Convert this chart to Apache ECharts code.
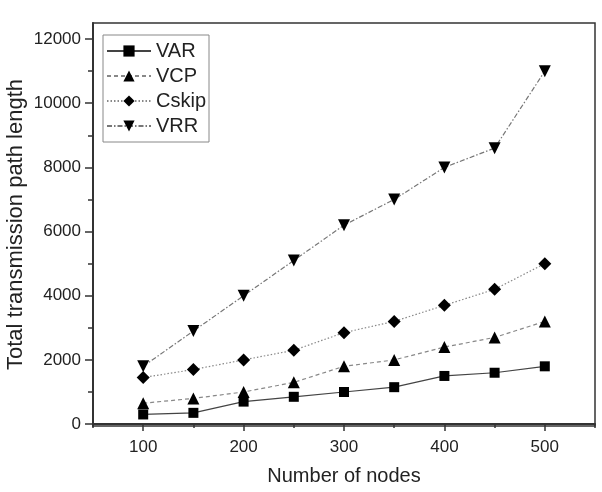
<!DOCTYPE html>
<html>
<head>
<meta charset="utf-8">
<script src="https://cdn.jsdelivr.net/npm/echarts@6/dist/echarts.min.js"></script>
<style>
  html, body { margin: 0; padding: 0; background: #fff; }
  #chart { width: 602px; height: 492px; }
</style>
</head>
<body>
<div id="chart"></div>
<script>
// data
const nodes = [100, 150, 200, 250, 300, 350, 400, 450, 500];
const varVals = [300, 350, 700, 850, 1000, 1150, 1500, 1600, 1800];
const vcpVals = [650, 800, 1000, 1300, 1800, 2000, 2400, 2700, 3200];
const cskipVals = [1450, 1700, 2000, 2300, 2850, 3200, 3700, 4200, 5000];
const vrrVals = [1800, 2900, 4000, 5100, 6200, 7000, 8000, 8600, 11000];

const xMajor = [100, 200, 300, 400, 500];
const xMinor = [50, 150, 250, 350, 450, 550];
const yMajor = [0, 2000, 4000, 6000, 8000, 10000, 12000];
const yMinor = [1000, 3000, 5000, 7000, 9000, 11000];

const pairs = (vals) => nodes.map((n, i) => [n, vals[i]]);

const font = 'Liberation Sans, Arial, sans-serif';
const axisColor = '#333';
const textColor = '#222';

const mkSeries = (name, vals, symbol, size, lineColor, lineType) => ({
  name: name,
  type: 'line',
  data: pairs(vals),
  symbol: symbol,
  symbolSize: size,
  itemStyle: { color: '#000' },
  lineStyle: { color: lineColor, width: 1.2, type: lineType },
  z: 3
});

const myChart = echarts.init(document.getElementById('chart'), null, { renderer: 'canvas' });
myChart.setOption({
  animation: false,
  backgroundColor: '#fff',
  grid: {
    left: 93, right: 7, top: 23, bottom: 66,
    outerBoundsMode: 'none',
    containLabel: false,
    show: true, borderColor: axisColor, borderWidth: 1.5
  },
  legend: {
    orient: 'vertical',
    left: 103, top: 35,
    padding: [6, 3, 6, 3],
    borderColor: '#888', borderWidth: 1,
    itemWidth: 44, itemHeight: 14, itemGap: 5,
    textStyle: { fontFamily: font, fontSize: 20, color: textColor },
    data: ['VAR', 'VCP', 'Cskip', 'VRR']
  },
  xAxis: [
    {
      type: 'value', min: 50, max: 550,
      name: 'Number of nodes', nameLocation: 'middle', nameGap: 40,
      nameMoveOverlap: false,
      nameTextStyle: { fontFamily: font, fontSize: 20, color: textColor },
      axisLine: { show: true, lineStyle: { color: axisColor, width: 2 } },
      axisTick: { show: true, inside: false, length: 7, customValues: xMajor, lineStyle: { color: axisColor, width: 1.5 } },
      axisLabel: { customValues: xMajor, margin: 13, fontFamily: font, fontSize: 17, color: textColor },
      splitLine: { show: false }
    },
    {
      type: 'value', min: 50, max: 550, position: 'bottom',
      axisLine: { show: false },
      axisTick: { show: true, length: 4, customValues: xMinor, lineStyle: { color: axisColor, width: 1.5 } },
      axisLabel: { show: false },
      splitLine: { show: false }
    }
  ],
  yAxis: [
    {
      type: 'value', min: -60, max: 12500,
      name: 'Total transmission path length', nameLocation: 'middle', nameGap: 66,
      nameMoveOverlap: false,
      nameTextStyle: { fontFamily: font, fontSize: 22, color: textColor },
      axisLine: { show: true, lineStyle: { color: axisColor, width: 2 } },
      axisTick: { show: true, inside: false, length: 8, customValues: yMajor, lineStyle: { color: axisColor, width: 1.5 } },
      axisLabel: {
        customValues: yMajor, margin: 12, fontFamily: font, fontSize: 17, color: textColor,
        formatter: (v) => String(v)
      },
      splitLine: { show: false }
    },
    {
      type: 'value', min: -60, max: 12500, position: 'left',
      axisLine: { show: false },
      axisTick: { show: true, length: 5, customValues: yMinor, lineStyle: { color: axisColor, width: 1.5 } },
      axisLabel: { show: false },
      splitLine: { show: false }
    }
  ],
  series: [
    mkSeries('VAR', varVals, 'rect', 10, '#444', 'solid'),
    mkSeries('VCP', vcpVals, 'triangle', 12, '#888', [4, 3]),
    mkSeries('Cskip', cskipVals, 'diamond', 13, '#888', [1.5, 2]),
    mkSeries('VRR', vrrVals, 'path://M0,0 L10,0 L5,9 Z', 12, '#777', [5, 2, 1.5, 2])
  ]
});
</script>
</body>
</html>
